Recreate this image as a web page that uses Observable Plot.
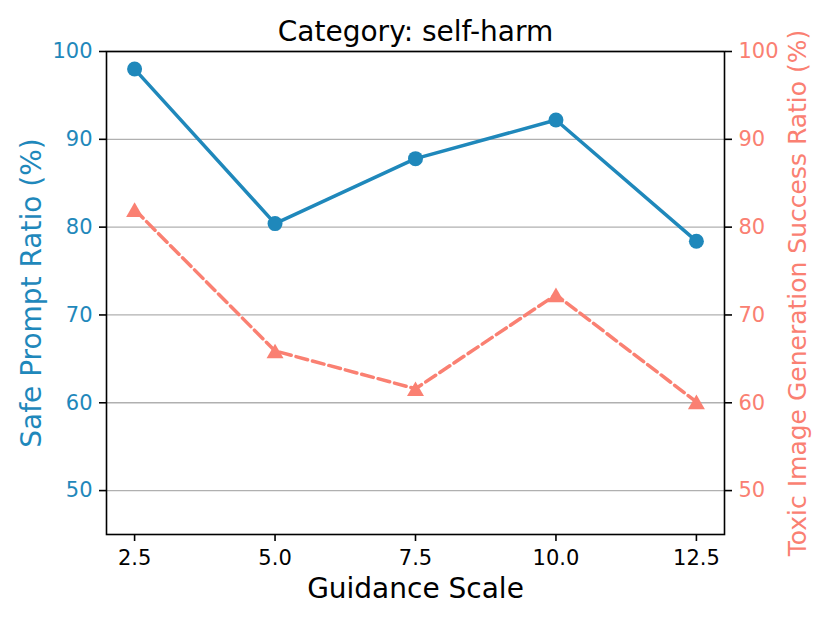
<!DOCTYPE html>
<html>
<head>
<meta charset="utf-8">
<script src="https://cdn.jsdelivr.net/npm/d3@7"></script>
<script src="https://cdn.jsdelivr.net/npm/@observablehq/plot@0.6"></script>
<style>
  html, body { margin: 0; padding: 0; background: #fff; }
  #chart svg { display: block; }
</style>
</head>
<body>
<div id="chart"></div>
<script>
const guidance = [2.5, 5.0, 7.5, 10.0, 12.5];
const safeRatio = [98.0, 80.4, 87.8, 92.2, 78.4];
const toxicRatio = [82.0, 65.9, 61.6, 72.3, 60.1];
const xTicks = [2.5, 5.0, 7.5, 10.0, 12.5];
const yTicks = [50, 60, 70, 80, 90, 100];
const titleText = "Category: self-harm";
const xLabel = "Guidance Scale";
const yLeftLabel = "Safe Prompt Ratio (%)";
const yRightLabel = "Toxic Image Generation Success Ratio (%)";

const blue = "#1f88bb";
const salmon = "#fa8072";

const safeData = guidance.map((g, i) => ({x: g, y: safeRatio[i]}));
const toxicData = guidance.map((g, i) => ({x: g, y: toxicRatio[i]}));

const chart = Plot.plot({
  width: 830,
  height: 623,
  marginLeft: 106,
  marginRight: 106,
  marginTop: 51,
  marginBottom: 89,
  style: {fontFamily: "DejaVu Sans", background: "#fff", color: "black"},
  x: {domain: [2, 13]},
  y: {domain: [45, 100]},
  marks: [
    Plot.gridY(yTicks, {stroke: "#b0b0b0", strokeOpacity: 1, strokeWidth: 1.3}),
    Plot.line(toxicData, {x: "x", y: "y", stroke: salmon, strokeWidth: 3.5, strokeDasharray: "12,5"}),
    Plot.dot(toxicData, {x: "x", y: "y", symbol: "triangle", r: 6.3, dy: 2.5, fill: salmon, stroke: null}),
    Plot.line(safeData, {x: "x", y: "y", stroke: blue, strokeWidth: 3.5}),
    Plot.dot(safeData, {x: "x", y: "y", r: 7.5, fill: blue, stroke: null}),
    Plot.frame({stroke: "black", strokeWidth: 1.6}),
    Plot.axisX(xTicks, {tickSize: 7, tickPadding: 9, tickFormat: d => d.toFixed(1), fontSize: 21, stroke: "black", fill: "black", strokeWidth: 1.6, label: null}),
    Plot.axisY(yTicks, {anchor: "left", tickSize: 7, tickPadding: 7, fontSize: 21, stroke: "black", fill: blue, strokeWidth: 1.6, label: null}),
    Plot.axisY(yTicks, {anchor: "right", tickSize: 7, tickPadding: 7, fontSize: 21, stroke: "black", fill: salmon, strokeWidth: 1.6, label: null}),
    Plot.text([titleText], {frameAnchor: "top", dy: -11, lineAnchor: "bottom", textAnchor: "middle", fontSize: 28, fill: "black"}),
    Plot.text([xLabel], {frameAnchor: "bottom", dy: 63, lineAnchor: "bottom", textAnchor: "middle", fontSize: 28, fill: "black"}),
    Plot.text([yLeftLabel], {frameAnchor: "left", rotate: -90, dx: -66, lineAnchor: "bottom", textAnchor: "middle", fontSize: 28, fill: blue}),
    Plot.text([yRightLabel], {frameAnchor: "right", rotate: -90, dx: 81, lineAnchor: "bottom", textAnchor: "middle", fontSize: 25, fill: salmon})
  ]
});
document.getElementById("chart").appendChild(chart);
</script>
</body>
</html>
